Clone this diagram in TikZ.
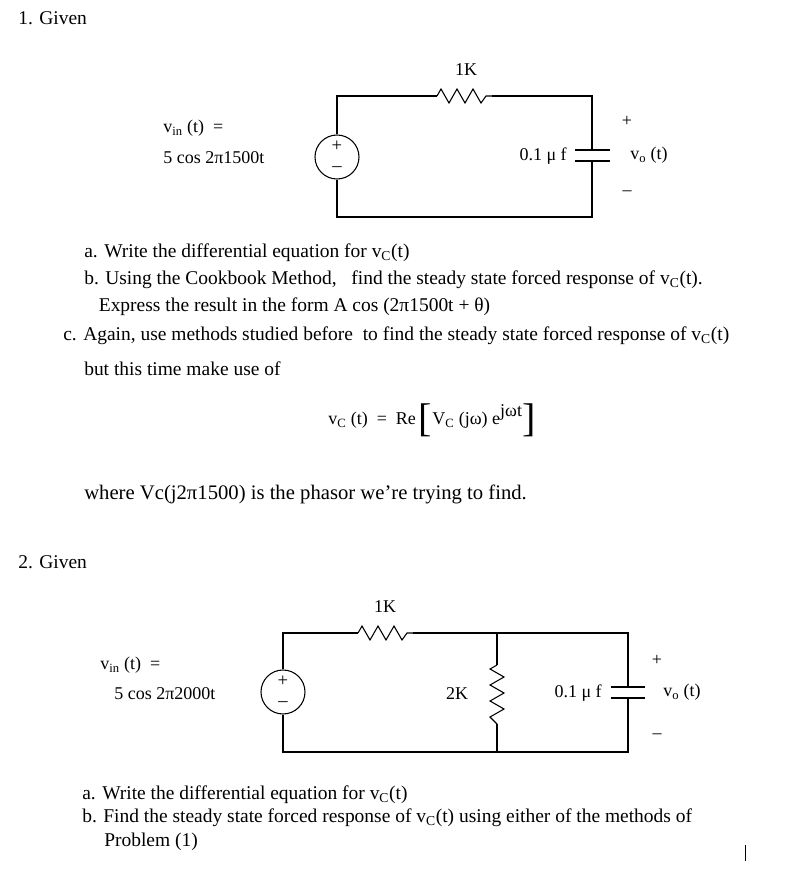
\documentclass[tikz,border=0pt]{standalone}
\usepackage{fontspec}
\setmainfont{Liberation Serif}
\begin{document}
\begin{tikzpicture}[x=0.75pt,y=-0.75pt,
  txt/.style={anchor=west,inner sep=0pt,font=\fontsize{14.6}{16}\selectfont},
  lbl/.style={inner sep=0pt,font=\fontsize{13.5}{15}\selectfont},
  pm/.style={inner sep=0pt,font=\fontsize{14}{14}\selectfont},
  src/.style={circle,draw,thick,minimum size=33pt,inner sep=0pt},
  wire/.style={thick}]
\useasboundingbox (0,0) rectangle (801,874);
% ---------- circuit 1
\node[txt] (g1) at (18,18) {1. Given};
\node[src] (s1) at (337,157) {};
\node[pm] at (337,146) {+};
\node[pm] at (337,169) {--};
\coordinate (tl1) at (337,96); \coordinate (bl1) at (337,217);
\coordinate (tr1) at (592,96); \coordinate (br1) at (592,217);
\coordinate (ra1) at (437,96); \coordinate (rb1) at (492,96);
\coordinate (ct1) at (592,150); \coordinate (cb1) at (592,161);
\draw[wire] (s1) -- (tl1) -- (ra1);
\draw[wire] (ra1) -- ++(4,-7) -- ++(8,14) -- ++(8,-14) -- ++(8,14) -- ++(8,-14) -- ++(8,14) -- ++(5,-7) -- (rb1);
\draw[wire] (rb1) -- (tr1) -- (ct1);
\draw[wire] (cb1) -- (br1) -- (bl1) -- (s1);
\draw[wire] (575,150) -- (610,150); \draw[wire] (575,161) -- (610,161);
\node[lbl] (r1l) at (466,70) {1K};
\node[lbl,anchor=east] (c1l) at (567,156) {0.1 μ f};
\node[lbl] at (627,121) {+};
\node[lbl] at (627,193) {--};
\node[lbl,anchor=west] (vo1) at (630,155) {v\textsubscript{o} (t)};
\node[lbl,anchor=west] (vin1) at (163,128) {v\textsubscript{in} (t) \ =};
\node[lbl,anchor=west] (vf1) at (163,158) {5 cos 2π1500t};
% ---------- text 1
\node[txt] at (84,253) {a. Write the differential equation for v\textsubscript{C}(t)};
\node[txt] at (84,280) {b. Using the Cookbook Method, \ \ find the steady state forced response of v\textsubscript{C}(t).};
\node[txt] at (84,307) {\ \ \ Express the result in the form A cos (2π1500t + θ)};
\node[txt] at (63,336) {c. Again, use methods studied before \ to find the steady state forced response of v\textsubscript{C}(t)};
\node[txt] at (84,369) {but this time make use of};
\node[txt,font=\fontsize{13.5}{15}\selectfont] (eq) at (328,420) {v\textsubscript{C} (t) \ = \ Re\,\raisebox{-5pt}{\fontsize{30}{30}\selectfont[}V\textsubscript{C} (jω) e\raisebox{6pt}{jωt}\raisebox{-5pt}{\fontsize{30}{30}\selectfont]}};
\node[txt,font=\fontsize{15.5}{18}\selectfont] at (84,494) {where Vc(j2π1500) is the phasor we’re trying to find.};
% ---------- circuit 2
\node[txt] (g2) at (18,562) {2. Given};
\node[src] (s2) at (283,692) {};
\node[pm] at (283,681) {+};
\node[pm] at (283,704) {--};
\coordinate (tl2) at (283,633); \coordinate (bl2) at (283,752);
\coordinate (tm2) at (497,633); \coordinate (bm2) at (497,752);
\coordinate (tr2) at (628,633); \coordinate (br2) at (628,752);
\coordinate (ra2) at (358,633); \coordinate (rb2) at (413,633);
\coordinate (va2) at (497,665); \coordinate (vb2) at (497,724);
\coordinate (ct2) at (628,687); \coordinate (cb2) at (628,698);
\draw[wire] (s2) -- (tl2) -- (ra2);
\draw[wire] (ra2) -- ++(4,-7) -- ++(8,14) -- ++(8,-14) -- ++(8,14) -- ++(8,-14) -- ++(8,14) -- ++(5,-7) -- (rb2);
\draw[wire] (rb2) -- (tm2) -- (tr2) -- (ct2);
\draw[wire] (tm2) -- (va2);
\draw[wire] (va2) -- ++(-7,4) -- ++(14,8) -- ++(-14,8) -- ++(14,8) -- ++(-14,8) -- ++(14,8) -- ++(-14,8) -- ++(7,7) -- (vb2);
\draw[wire] (vb2) -- (bm2);
\draw[wire] (cb2) -- (br2) -- (bl2) -- (s2);
\draw[wire] (611,687) -- (645,687); \draw[wire] (611,698) -- (645,698);
\node[lbl] (r2l) at (385,607) {1K};
\node[lbl] (r2m) at (457,694) {2K};
\node[lbl,anchor=east] (c2l) at (602,693) {0.1 μ f};
\node[lbl] at (657,660) {+};
\node[lbl] at (657,736) {--};
\node[lbl,anchor=west] (vo2) at (663,692) {v\textsubscript{o} (t)};
\node[lbl,anchor=west] (vin2) at (100,665) {v\textsubscript{in} (t) \ =};
\node[lbl,anchor=west] (vf2) at (114,694) {5 cos 2π2000t};
% ---------- text 2
\node[txt] at (82,795) {a. Write the differential equation for v\textsubscript{C}(t)};
\node[txt] at (82,818) {b. Find the steady state forced response of v\textsubscript{C}(t) using either of the methods of};
\node[txt] at (104,842) {Problem (1)};
\draw (745,845) -- (745,861);
\end{tikzpicture}
\end{document}
